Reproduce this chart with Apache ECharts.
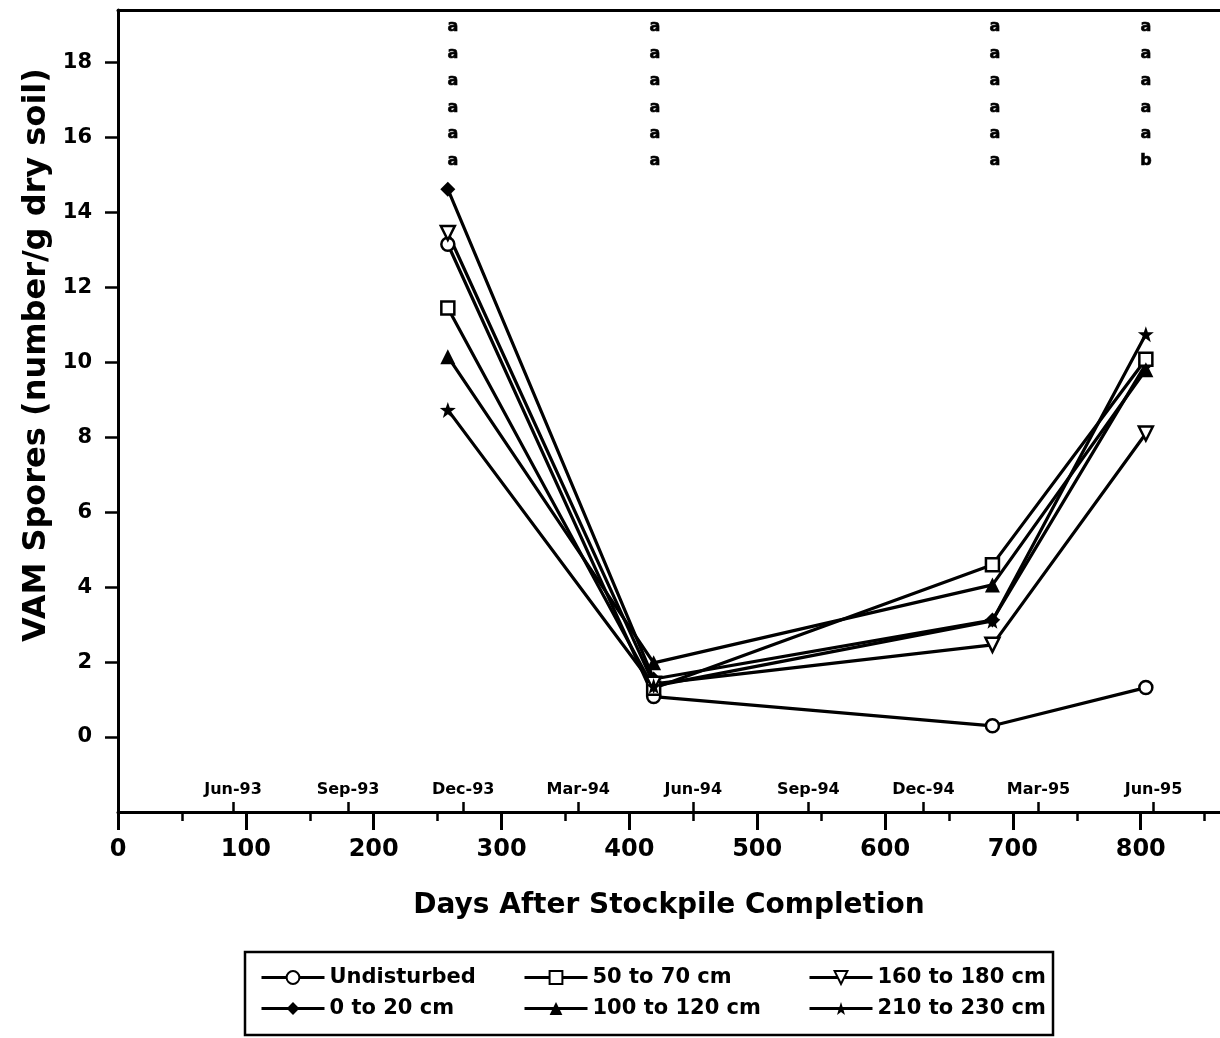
<!DOCTYPE html>
<html>
<head>
<meta charset="utf-8">
<script src="https://cdn.jsdelivr.net/npm/echarts@6/dist/echarts.min.js"></script>
<style>
html,body{margin:0;padding:0;background:#fff;}
#chart{width:1220px;height:1038px;}
</style>
</head>
<body>
<div id="chart"></div>
<script>
// ---- data ----
const days = [258, 419, 684, 804];
const undisturbed = [13.15, 1.08, 0.30, 1.32];
const d0to20 = [14.62, 1.55, 3.12, 9.95];
const d50to70 = [11.45, 1.30, 4.60, 10.08];
const d100to120 = [10.15, 1.98, 4.06, 9.80];
const d160to180 = [13.45, 1.42, 2.46, 8.10];
const d210to230 = [8.73, 1.36, 3.10, 10.75];

const letterDays = [262, 420, 686, 804];
const letters = [
  ['a','a','a','a','a','a'],
  ['a','a','a','a','a','a'],
  ['a','a','a','a','a','a'],
  ['a','a','a','a','a','b']
];
const letterTop = 18.95;
const letterStep = 0.716;

const xTicks = [0,100,200,300,400,500,600,700,800];
const xMinorTicks = [50,150,250,350,450,550,650,750,850];
const yTicks = [0,2,4,6,8,10,12,14,16,18];
const dateTickDays = [90,180,270,360,450,540,630,720,810];
const dateTickLabels = ['Jun-93','Sep-93','Dec-93','Mar-94','Jun-94','Sep-94','Dec-94','Mar-95','Jun-95'];

const names = ['Undisturbed','0 to 20 cm','50 to 70 cm','100 to 120 cm','160 to 180 cm','210 to 230 cm'];
const values = [undisturbed, d0to20, d50to70, d100to120, d160to180, d210to230];

// ---- styling ----
const FONT = 'DejaVu Sans';
const STAR = 'path://M0,-1L0.235,-0.324L0.951,-0.309L0.38,0.124L0.588,0.809L0,0.4L-0.588,0.809L-0.38,0.124L-0.951,-0.309L-0.235,-0.324Z';
const DIAMOND = 'path://M0,-1L1,0L0,1L-1,0Z';
const INVTRI = 'path://M-1,-1L1,-1L0,1Z';
const symbols = [
  {symbol:'circle', size:13, hollow:true},
  {symbol:DIAMOND, size:15, hollow:false},
  {symbol:'rect', size:13, hollow:true},
  {symbol:'triangle', size:15, hollow:false},
  {symbol:INVTRI, size:14, hollow:true},
  {symbol:STAR, size:16, hollow:false}
];

const series = names.map((n, i) => ({
  name: n,
  type: 'line',
  data: days.map((d, j) => [d, values[i][j]]),
  symbol: symbols[i].symbol,
  symbolSize: symbols[i].size,
  showAllSymbol: true,
  lineStyle: {color:'#000', width:3.2},
  itemStyle: symbols[i].hollow
    ? {color:'#fff', borderColor:'#000', borderWidth:2.5}
    : {color:'#000', borderColor:'#000', borderWidth:0},
  emphasis: {disabled:true},
  z: 3
}));

const letterData = [];
letters.forEach((col, i) => {
  col.forEach((l, k) => {
    letterData.push([letterDays[i], letterTop - k * letterStep, l]);
  });
});
series.push({
  name: 'letters',
  type: 'scatter',
  data: letterData,
  symbolSize: 0,
  itemStyle: {color: '#000', opacity: 1},
  label: {
    show: true,
    position: 'inside',
    formatter: p => p.data[2],
    color: '#000',
    opacity: 1,
    fontFamily: FONT,
    fontWeight: 900,
    fontSize: 16,
    textBorderColor: '#000',
    textBorderWidth: 0.6
  },
  silent: true,
  z: 4
});

const legendCommon = {
  orient: 'vertical',
  itemWidth: 63,
  itemHeight: 16,
  itemGap: 10,
  lineStyle: {color: '#000', width: 3},
  textStyle: {fontFamily: FONT, fontWeight: 'bold', fontSize: 21, color: '#000'},
  top: 962,
  selectedMode: false
};

const baseX = {type: 'value', min: 0, max: 862, splitLine: {show: false}};

const chart = echarts.init(document.getElementById('chart'), null, {renderer: 'canvas'});
chart.setOption({
  animation: false,
  backgroundColor: '#fff',
  grid: {left: 118, right: 0, top: 10, bottom: 226, show: false},
  xAxis: [
    Object.assign({}, baseX, {
      position: 'bottom',
      axisLine: {show: true, onZero: false, lineStyle: {color: '#000', width: 3}},
      axisTick: {show: true, inside: false, length: 18, lineStyle: {color: '#000', width: 3}, customValues: xTicks},
      axisLabel: {show: true, customValues: xTicks, margin: 26, fontFamily: FONT, fontWeight: 'bold', fontSize: 24, color: '#000'},
      name: 'Days After Stockpile Completion',
      nameLocation: 'middle',
      nameGap: 80,
      nameTextStyle: {fontFamily: FONT, fontWeight: 'bold', fontSize: 28, color: '#000'}
    }),
    Object.assign({}, baseX, {
      position: 'bottom',
      axisLine: {show: false, onZero: false},
      axisTick: {show: true, inside: false, length: 9, lineStyle: {color: '#000', width: 2.5}, customValues: xMinorTicks},
      axisLabel: {show: false}
    }),
    Object.assign({}, baseX, {
      position: 'bottom',
      axisLine: {show: false, onZero: false},
      axisTick: {show: true, inside: true, length: 10, lineStyle: {color: '#000', width: 2.5}, customValues: dateTickDays},
      axisLabel: {
        show: true, inside: true, margin: 14,
        customValues: dateTickDays,
        formatter: v => dateTickLabels[dateTickDays.indexOf(v)] || '',
        fontFamily: FONT, fontWeight: 'bold', fontSize: 16, color: '#000'
      }
    }),
    Object.assign({}, baseX, {
      position: 'top',
      axisLine: {show: true, onZero: false, lineStyle: {color: '#000', width: 3}},
      axisTick: {show: false},
      axisLabel: {show: false}
    })
  ],
  yAxis: [
    {
      type: 'value', min: -2, max: 19.4,
      axisLine: {show: true, onZero: false, lineStyle: {color: '#000', width: 3}},
      axisTick: {show: true, inside: false, length: 13, lineStyle: {color: '#000', width: 2.5}, customValues: yTicks},
      axisLabel: {show: true, customValues: yTicks, margin: 26, fontFamily: FONT, fontWeight: 'bold', fontSize: 21, color: '#000'},
      splitLine: {show: false}
    }
  ],
  legend: [
    Object.assign({}, legendCommon, {left: 255, data: ['Undisturbed', '0 to 20 cm']}),
    Object.assign({}, legendCommon, {left: 518, data: ['50 to 70 cm', '100 to 120 cm']}),
    Object.assign({}, legendCommon, {left: 803, data: ['160 to 180 cm', '210 to 230 cm']})
  ],
  graphic: [
    {
      type: 'rect',
      shape: {x: 245, y: 952, width: 808, height: 83},
      style: {fill: 'none', stroke: '#000', lineWidth: 2.5},
      silent: true
    },
    {
      type: 'text',
      x: 37, y: 355,
      rotation: Math.PI / 2,
      style: {
        text: 'VAM Spores (number/g dry soil)',
        fontFamily: FONT, fontWeight: 'bold', fontSize: 32,
        fill: '#000', textAlign: 'center', textVerticalAlign: 'middle'
      },
      silent: true
    }
  ],
  series: series
});
</script>
</body>
</html>
